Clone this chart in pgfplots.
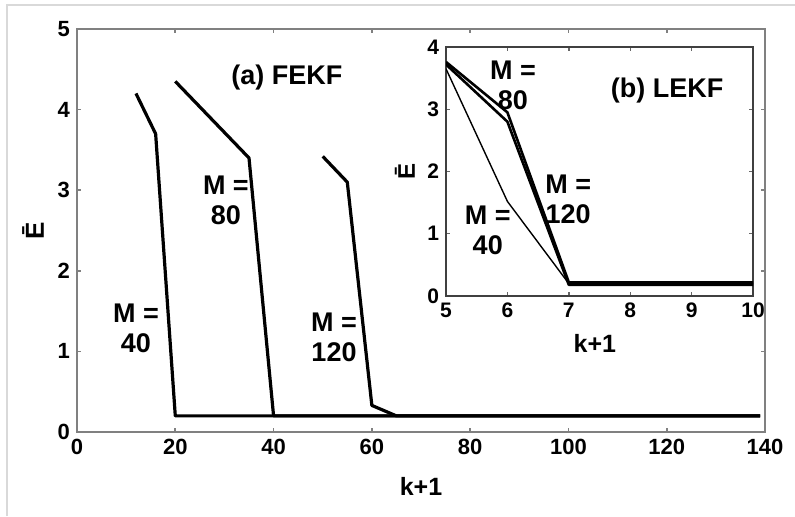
\documentclass[border=0pt]{standalone}
\usepackage{fontspec}
\setmainfont{Liberation Sans}
\usepackage{pgfplots}
\pgfplotsset{compat=1.18}

\pgfplotsset{
  kfaxis/.style={
    scale only axis,
    tick align=inside,
    major tick length=2pt,
    /pgf/number format/assume math mode=true,
    label style={font=\bfseries\fontsize{12.5}{13}\selectfont},
    every axis plot/.append style={line join=round},
  },
}
\tikzset{lbl/.style={font=\bfseries\fontsize{13.5}{15}\selectfont, align=center, inner sep=0pt}}

\begin{document}
\begin{tikzpicture}
% main panel (a) FEKF
\begin{axis}[kfaxis,
  at={(0,0)}, anchor=south west,
  width=344pt, height=201.5pt,
  xmin=0, xmax=140, ymin=0, ymax=5,
  xtick={0,20,...,140}, ytick={0,1,...,5},
  tick label style={font=\bfseries\fontsize{11}{11}\selectfont},
  axis line style={draw=black!50, line width=1pt},
  tick style={draw=black!50, line width=0.8pt},
  xlabel={k+1}, ylabel={Ē},
  every axis x label/.append style={at={(axis description cs:0.5,-0.136)}, anchor=center},
  every axis y label/.append style={at={(axis description cs:-0.064,0.5)}, anchor=center, font=\bfseries\fontsize{13}{13}\selectfont},
]
\addplot[black, line width=1.6pt] coordinates {(12,4.2) (16,3.7) (20,0.2) (139,0.2)};
\addplot[black, line width=1.6pt] coordinates {(20,4.35) (35,3.4) (40,0.2) (139,0.2)};
\addplot[black, line width=1.6pt] coordinates {(50,3.42) (55,3.1) (60,0.33) (65,0.2) (139,0.2)};
\node[lbl] at (axis cs:42.7,4.40) {(a) FEKF};
\node[lbl] at (axis cs:30.3,2.87) {M =\\80};
\node[lbl] at (axis cs:12.0,1.29) {M =\\40};
\node[lbl] at (axis cs:52.3,1.18) {M =\\120};
\end{axis}

% inset panel (b) LEKF
\begin{axis}[kfaxis,
  at={(184.5pt,68pt)}, anchor=south west,
  width=153.5pt, height=124.5pt,
  xmin=5, xmax=10, ymin=0, ymax=4,
  xtick={5,...,10}, ytick={0,...,4},
  axis background/.style={fill=white},
  tick label style={font=\bfseries\fontsize{10.5}{10.5}\selectfont},
  axis line style={draw=black!75, line width=0.9pt},
  tick style={draw=black!60, line width=0.7pt},
  xlabel={k+1}, ylabel={Ē},
  every axis x label/.append style={at={(axis description cs:0.485,-0.189)}, anchor=center},
  every axis y label/.append style={at={(axis description cs:-0.134,0.5)}, anchor=center, font=\bfseries\fontsize{12}{12}\selectfont},
]
\addplot[black, line width=0.7pt] coordinates {(5,3.65) (6,1.52) (7,0.2) (10,0.2)};
\addplot[black, line width=1.3pt] coordinates {(5,3.76) (6,2.95) (7,0.22) (10,0.22)};
\addplot[black, line width=1.3pt] coordinates {(5,3.72) (6,2.8) (7,0.18) (10,0.18)};
\node[lbl] at (axis cs:6.09,3.38) {M =\\80};
\node[lbl] at (axis cs:8.6,3.30) {(b) LEKF};
\node[lbl] at (axis cs:6.99,1.55) {M =\\120};
\node[lbl] at (axis cs:5.68,1.06) {M =\\40};
\end{axis}

% light frame of the original figure
\draw[black!15, line width=1pt] (-35pt,-42pt) -- (-35pt,213.5pt) -- (359pt,213.5pt);
\pgfresetboundingbox
\path[use as bounding box] (-38.5pt,-42pt) rectangle (359pt,216pt);
\end{tikzpicture}
\end{document}
